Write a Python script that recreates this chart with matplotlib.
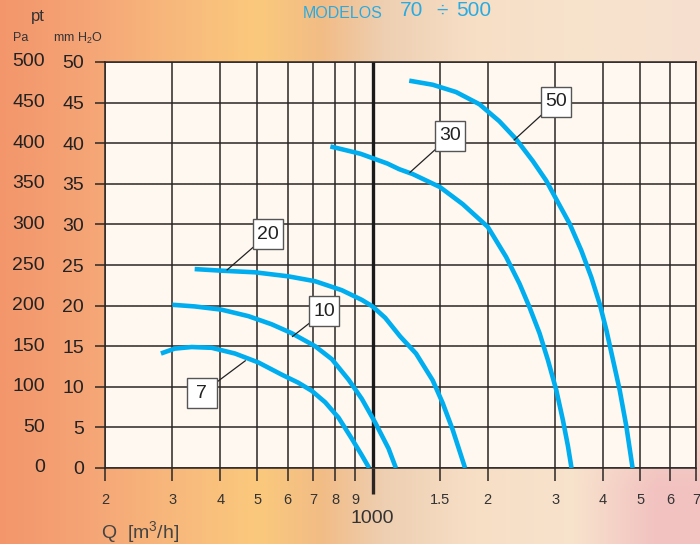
import matplotlib
matplotlib.use('Agg')
import matplotlib.pyplot as plt
import numpy as np
from matplotlib.colors import to_rgb
from matplotlib.patches import Rectangle
from matplotlib.transforms import ScaledTranslation
from matplotlib.ticker import NullLocator, FixedLocator

plt.rcParams['font.family'] = ['Liberation Sans', 'DejaVu Sans']
plt.rcParams['mathtext.default'] = 'regular'

# fan curves: Q [m3/h] vs pt [Pa]
q7 = [280, 304, 337, 380, 437, 503, 579, 640, 694, 752, 815, 883, 938, 980]
p7 = [141, 147, 149, 148, 141, 130, 115, 105, 95, 81, 62, 36, 15.5, 0]
q10 = [300, 343, 403, 474, 545, 615, 708, 783, 865, 938, 1016, 1101, 1151]
p10 = [201, 199, 195, 187, 177, 166, 150, 134, 109, 85, 56, 24, 0]
q20 = [343, 403, 493, 603, 708, 831, 938, 1000, 1079, 1181, 1299, 1436, 1525, 1620, 1745]
p20 = [245, 243, 241, 236, 230, 219, 207, 199, 185, 162, 141, 108, 80, 47, 0]
q30 = [776, 930, 1093, 1174, 1273, 1500, 1720, 2000, 2233, 2421, 2571, 2731, 2872, 3020, 3143, 3240, 3310]
p30 = [396, 387, 375, 368, 362, 346, 325, 297, 260, 227, 198, 166, 133, 96, 59, 27, 0]
q50 = [1247, 1436, 1653, 1902, 2145, 2372, 2623, 2842, 3020, 3272, 3510, 3728, 3922, 4082, 4249, 4423, 4605, 4780]
p50 = [477, 472, 463, 448, 427, 405, 378, 354, 331, 301, 268, 235, 202, 170, 133, 96, 51, 0]

curve_names = ['7', '10', '20', '30', '50']
# label box centre and the point on the curve the leader goes to
label_q = [358, 749, 534, 1598, 3014]
label_p = [92, 193, 288, 409, 451]
leader_q = [465, 618, 417, 1252, 2345]
leader_p = [132, 162, 244, 364, 404]

x_ticks = [200, 300, 400, 500, 600, 700, 800, 900, 1000, 1500, 2000, 3000, 4000, 5000, 6000, 7000]
x_labels = ['2', '3', '4', '5', '6', '7', '8', '9', '', '1.5', '2', '3', '4', '5', '6', '7']
pa_ticks = list(range(0, 501, 50))
mm_labels = [str(v // 10) for v in pa_ticks]

fig = plt.figure(figsize=(7, 5.44), dpi=100)

# background wash
bg = fig.add_axes([0, 0, 1, 1], zorder=-10)
stops = [(0.0, '#F3966C'), (0.12, '#F5A476'), (0.25, '#F8B97C'), (0.37, '#FBC97C'),
         (0.46, '#F2BC86'), (0.55, '#EECFB2'), (0.68, '#F7DFC6'), (0.85, '#F8E3CD'), (1.0, '#F6DFCF')]
xs = np.linspace(0, 1, 350)
cols = np.array([to_rgb(c) for _, c in stops])
pos = [s for s, _ in stops]
row = np.stack([np.interp(xs, pos, cols[:, i]) for i in range(3)], axis=-1)
img = np.repeat(row[None, :, :], 272, axis=0)
yy, xx = np.mgrid[0:1:272j, 0:1:350j]
pink = np.array(to_rgb('#F2C2C0'))
w = np.clip((xx - 0.82) / 0.12, 0, 1) * np.clip((yy - 0.7) / 0.2, 0, 1)
img = img * (1 - w[..., None]) + pink * w[..., None]
bg.imshow(img, aspect='auto', extent=[0, 1, 0, 1])
bg.axis('off')

ax = fig.add_axes([105 / 700, 1 - 468 / 544, 591 / 700, 406 / 544])
ax.set_facecolor('#FFF8F1')
ax.set_xscale('log')
ax.set_xlim(200, 7000)
ax.set_ylim(0, 500)

ax.xaxis.set_major_locator(FixedLocator(x_ticks))
ax.xaxis.set_minor_locator(NullLocator())
ax.set_xticklabels(x_labels)
ax.set_yticks(pa_ticks)
ax.set_yticklabels(mm_labels)

grid_c = '#2b2624'
ax.grid(True, color=grid_c, lw=1.1)
for s in ax.spines.values():
    s.set_color(grid_c)
    s.set_linewidth(1.1)
ax.tick_params(axis='x', length=9, width=1.1, color=grid_c, pad=9, labelsize=10.5, labelcolor='#333333')
ax.tick_params(axis='y', length=7, width=1.1, color=grid_c, pad=8, labelsize=14, labelcolor='#222222')

# thick 1000 line that runs past the axis
ax.axvline(1000, color='#1a1a1a', lw=2.4, zorder=2)
t1000 = ax.xaxis.get_major_ticks()[8]
t1000.tick1line.set_markersize(19)
t1000.tick1line.set_markeredgewidth(2.4)
ax.text(1000, -0.125, '1000', transform=ax.get_xaxis_transform(), ha='center', va='center',
        fontsize=14, color='#333333')

# Pa column
for v in pa_ticks:
    ax.text(-0.1015, v, str(v), transform=ax.get_yaxis_transform(), ha='right', va='center',
            fontsize=14, color='#222222')

blue = '#00AEEF'
for q, p in [(q7, p7), (q10, p10), (q20, p20), (q30, p30), (q50, p50)]:
    ax.plot(q, p, color=blue, lw=3.3, solid_capstyle='butt', solid_joinstyle='round', zorder=3)

for name, bq, bp, lq, lp in zip(curve_names, label_q, label_p, leader_q, leader_p):
    ax.plot([bq, lq], [bp, lp], color='#222222', lw=0.9, zorder=4)
    tr = fig.dpi_scale_trans + ScaledTranslation(bq, bp, ax.transData)
    ax.add_patch(Rectangle((-0.15, -0.15), 0.3, 0.3, transform=tr, facecolor='white',
                           edgecolor='#555555', lw=1.0, zorder=5, clip_on=False))
    ax.text(bq, bp, name, ha='center', va='center', fontsize=14, color='#222222', zorder=6)

# headings
fig.text(38 / 700, 1 - 17 / 544, 'pt', ha='center', va='center', fontsize=12, color='#333333')
fig.text(21 / 700, 1 - 38 / 544, 'Pa', ha='center', va='center', fontsize=9, color='#333333')
fig.text(53 / 700, 1 - 38 / 544, 'mm H$_2$O', ha='left', va='center', fontsize=9, color='#333333')
fig.text(303 / 700, 1 - 13 / 544, 'MODELOS', ha='left', va='center', fontsize=11.5, color='#29ABE2')
fig.text(400 / 700, 1 - 11 / 544, '70', ha='left', va='center', fontsize=15, color='#29ABE2')
fig.text(442 / 700, 1 - 11 / 544, '÷', ha='center', va='center', fontsize=15, color='#29ABE2')
fig.text(456 / 700, 1 - 11 / 544, '500', ha='left', va='center', fontsize=15, color='#29ABE2')
fig.text(101 / 700, 1 - 532 / 544, 'Q  [m$^3$/h]', ha='left', va='center', fontsize=14, color='#444444')

fig.savefig('out.png', dpi=100)
